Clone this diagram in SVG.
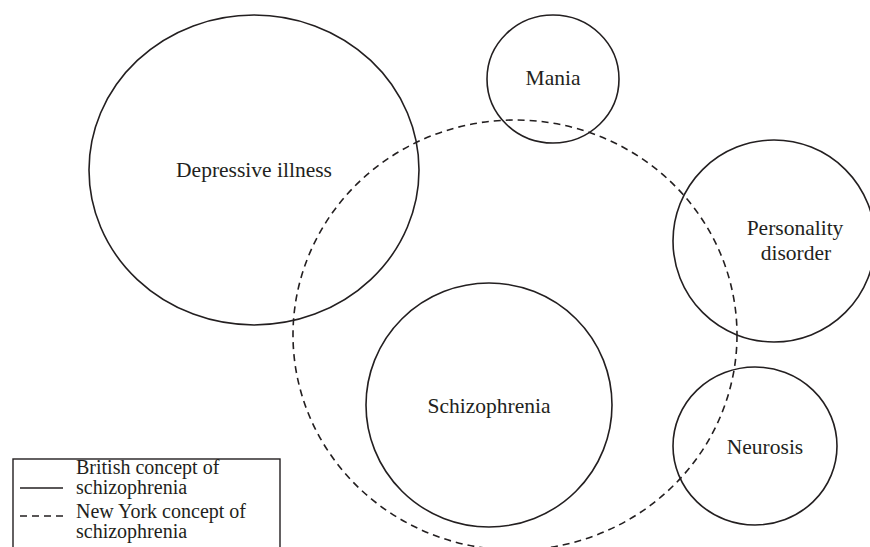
<svg xmlns="http://www.w3.org/2000/svg" width="870" height="547" viewBox="0 0 870 547">
<style>
.c{fill:none;stroke:#231f20;stroke-width:1.6}
.d{fill:none;stroke:#231f20;stroke-width:1.6;stroke-dasharray:7 5}
.t{font-family:"Liberation Serif","DejaVu Serif",serif;font-size:21.5px;fill:#231f20}
.l{font-size:20px}
.m{text-anchor:middle}
</style>
<rect width="870" height="547" fill="#fff"/>
<g id="new-york-concept">
<ellipse class="d" cx="515" cy="335" rx="222" ry="215"/>
</g>
<g id="depressive-illness">
<ellipse class="c" cx="254" cy="170" rx="165" ry="155"/>
<text class="t m" x="254" y="177">Depressive illness</text>
</g>
<g id="mania">
<ellipse class="c" cx="553" cy="79" rx="66" ry="64"/>
<text class="t m" x="553" y="85">Mania</text>
</g>
<g id="personality-disorder">
<ellipse class="c" cx="774" cy="241" rx="101" ry="101"/>
<text class="t m" x="795" y="235"><tspan x="795">Personality</tspan><tspan x="796" y="260">disorder</tspan></text>
</g>
<g id="schizophrenia">
<ellipse class="c" cx="489" cy="405" rx="123" ry="122"/>
<text class="t m" x="489" y="413">Schizophrenia</text>
</g>
<g id="neurosis">
<ellipse class="c" cx="755" cy="446" rx="82" ry="79"/>
<text class="t m" x="765" y="454">Neurosis</text>
</g>
<g id="legend">
<rect x="13" y="459" width="267" height="100" fill="#fff" stroke="#231f20" stroke-width="1.4"/>
<line class="c" x1="20" y1="488" x2="63" y2="488"/>
<text class="t l" x="76" y="474"><tspan x="76">British concept of</tspan><tspan x="76" y="494">schizophrenia</tspan></text>
<line class="d" x1="20" y1="516" x2="63" y2="516"/>
<text class="t l" x="76" y="518"><tspan x="76">New York concept of</tspan><tspan x="76" y="538">schizophrenia</tspan></text>
</g>
</svg>
